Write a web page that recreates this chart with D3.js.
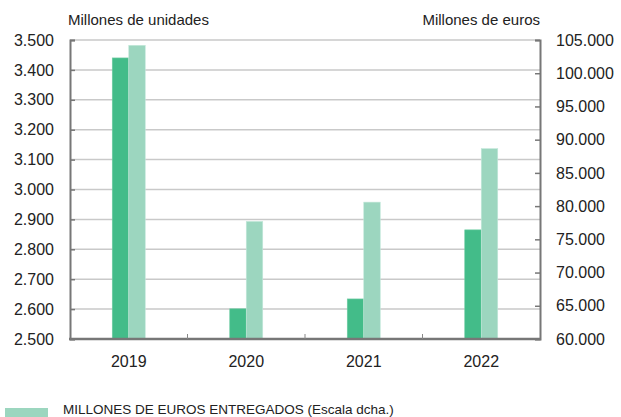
<!DOCTYPE html>
<html>
<head>
<meta charset="utf-8">
<script src="https://cdn.jsdelivr.net/npm/d3@7"></script>
<style>
  body { margin: 0; background: #fff; }
  text { font-family: "Liberation Sans", Arial, sans-serif; fill: #222; }
</style>
</head>
<body>
<div id="chart"></div>
<script>
const years = ["2019", "2020", "2021", "2022"];
const unidades = [3440, 2601, 2634, 2865];      // millones de unidades (izq.)
const euros = [104200, 77700, 80600, 88650];    // millones de euros (dcha.)
const leftTicks = [2500, 2600, 2700, 2800, 2900, 3000, 3100, 3200, 3300, 3400, 3500];
const rightTicks = [60000, 65000, 70000, 75000, 80000, 85000, 90000, 95000, 100000, 105000];
const legendLabel = "MILLONES DE EUROS ENTREGADOS (Escala dcha.)";

const width = 621, height = 417;
const margin = {top: 40, right: 81, bottom: 78, left: 70};
const fmt = d3.format(",.0f");
const es = v => fmt(v).replace(/,/g, ".");

const svg = d3.select("#chart")
  .append("svg")
  .attr("width", width)
  .attr("height", height);

const x = d3.scaleBand()
  .domain(years)
  .range([margin.left, width - margin.right]);

const yL = d3.scaleLinear().domain([2500, 3500]).range([height - margin.bottom, margin.top]);
const yR = d3.scaleLinear().domain([60000, 105000]).range([height - margin.bottom, margin.top]);

const barW = 16.5;

// gridlines
svg.append("g")
  .selectAll("line")
  .data(leftTicks.slice(1))
  .enter()
  .append("line")
  .attr("x1", margin.left)
  .attr("x2", width - margin.right)
  .attr("y1", d => yL(d))
  .attr("y2", d => yL(d))
  .attr("stroke", "#c9c9c9")
  .attr("stroke-width", 1.5);

// bars
const groups = svg.append("g")
  .selectAll("g")
  .data(years)
  .enter()
  .append("g");

groups.append("rect")
  .attr("x", d => x(d) + x.bandwidth() / 2 - barW)
  .attr("y", (d, i) => yL(unidades[i]))
  .attr("width", barW)
  .attr("height", (d, i) => yL(2500) - yL(unidades[i]))
  .attr("fill", "#43bc89")
  .attr("stroke", "#6fcca3")
  .attr("stroke-width", 0.6);

groups.append("rect")
  .attr("x", d => x(d) + x.bandwidth() / 2)
  .attr("y", (d, i) => yR(euros[i]))
  .attr("width", barW)
  .attr("height", (d, i) => yR(60000) - yR(euros[i]))
  .attr("fill", "#9cd6bf")
  .attr("stroke", "#c4e8da")
  .attr("stroke-width", 0.6);

// left axis
const left = svg.append("g")
  .attr("transform", `translate(${margin.left},0)`)
  .call(d3.axisLeft(yL).tickValues(leftTicks).tickSize(-5).tickPadding(16).tickFormat(es));

// right axis
const right = svg.append("g")
  .attr("transform", `translate(${width - margin.right},0)`)
  .call(d3.axisRight(yR).tickValues(rightTicks).tickSize(-5).tickPadding(16).tickFormat(es));

[left, right].forEach(ax => {
  ax.select(".domain").attr("stroke", "#777").attr("stroke-width", 2);
  ax.selectAll(".tick line").attr("stroke", "#777").attr("stroke-width", 1.5);
  ax.selectAll(".tick text").style("font-size", "16px").attr("fill", "#222");
});

// bottom axis
const bottom = svg.append("g")
  .attr("transform", `translate(0,${height - margin.bottom})`);

bottom.append("line")
  .attr("x1", margin.left - 1)
  .attr("x2", width - margin.right + 1)
  .attr("stroke", "#777")
  .attr("stroke-width", 2.5);

bottom.selectAll(".sep")
  .data(years.slice(1))
  .enter()
  .append("line")
  .attr("class", "sep")
  .attr("x1", d => x(d))
  .attr("x2", d => x(d))
  .attr("y1", 0)
  .attr("y2", -5)
  .attr("stroke", "#888")
  .attr("stroke-width", 1);

bottom.selectAll("text")
  .data(years)
  .enter()
  .append("text")
  .attr("x", d => x(d) + x.bandwidth() / 2)
  .attr("y", 28)
  .attr("text-anchor", "middle")
  .style("font-size", "16px")
  .text(d => d);

// axis titles
svg.append("text")
  .attr("x", 68)
  .attr("y", 25)
  .style("font-size", "15px")
  .attr("fill", "#333")
  .text("Millones de unidades");

svg.append("text")
  .attr("x", width - margin.right)
  .attr("y", 25)
  .attr("text-anchor", "end")
  .style("font-size", "15px")
  .attr("fill", "#333")
  .text("Millones de euros");

// legend (at the bottom edge of the picture)
svg.append("rect")
  .attr("x", 5)
  .attr("y", 408)
  .attr("width", 43)
  .attr("height", 12)
  .attr("fill", "#9cd6bf");

svg.append("text")
  .attr("x", 63)
  .attr("y", 414)
  .style("font-family", "'Liberation Sans Narrow', 'Liberation Sans', sans-serif")
  .style("font-stretch", "condensed")
  .style("font-size", "13.5px")
  .attr("fill", "#333")
  .text(legendLabel);
</script>
</body>
</html>
